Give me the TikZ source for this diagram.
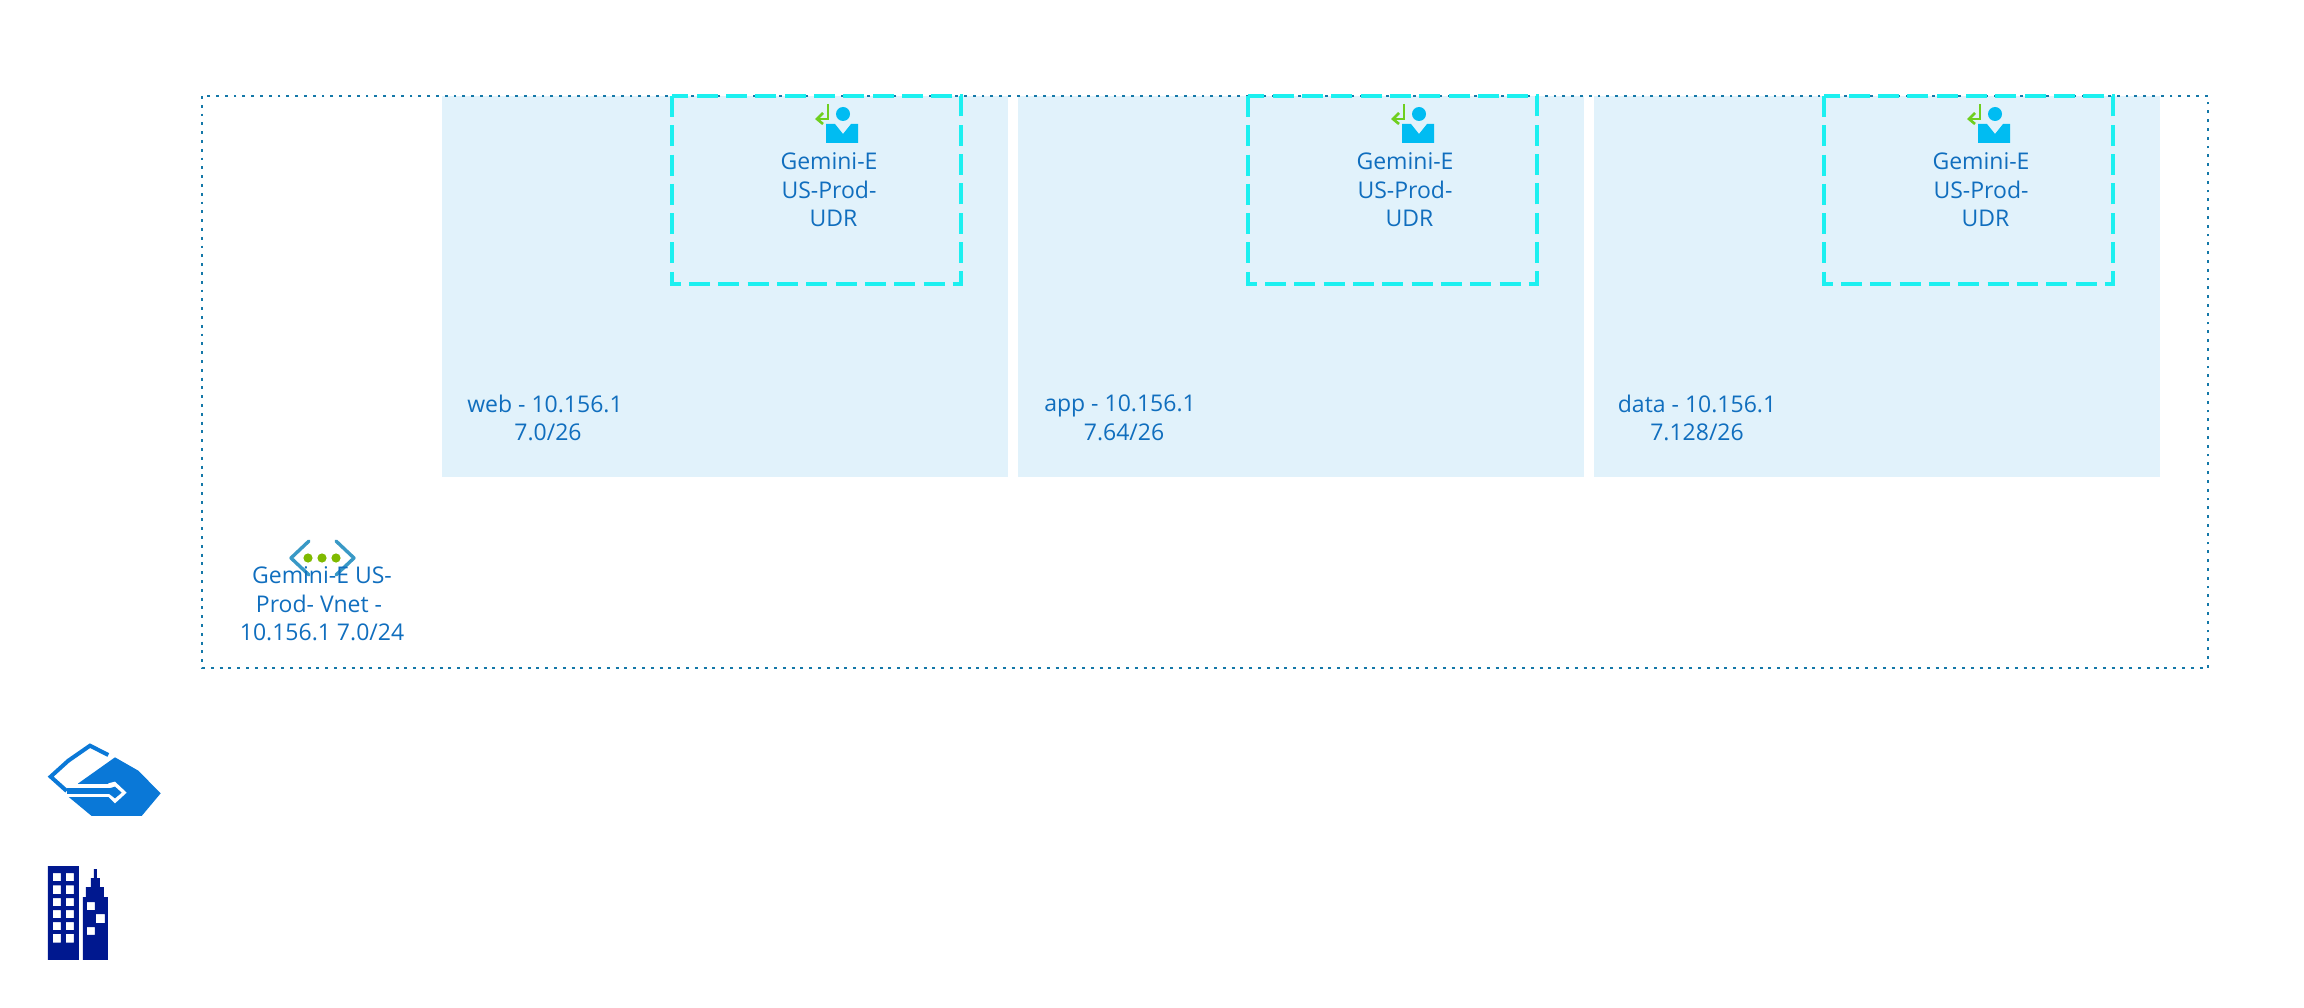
\documentclass[tikz,border=0pt]{standalone}
\usepackage{fontspec}
\setmainfont{Open Sans}
\definecolor{subnetfill}{HTML}{E1F2FB}
\definecolor{vnetline}{HTML}{1478A8}
\definecolor{udrline}{HTML}{1CF0F0}
\definecolor{labeltext}{HTML}{106EBE}
\definecolor{personblue}{HTML}{00BCF2}
\definecolor{arrowgreen}{HTML}{6FCF1F}
\definecolor{chevron}{HTML}{3999C6}
\definecolor{dotgreen}{HTML}{7FBA00}
\definecolor{gatewayblue}{HTML}{0A78D7}
\definecolor{buildingblue}{HTML}{00188F}
\tikzset{
  x=1pt,y=-1pt,
  subnetbox/.style={fill=subnetfill,draw=none},
  vnetbox/.style={draw=vnetline,line width=2.9pt,dash pattern=on 2.9pt off 5.9pt},
  udrbox/.style={draw=udrline,line width=3.6pt,dash pattern=on 21pt off 8.3pt},
  lbl/.style={text=labeltext,align=center,inner sep=0pt,font=\fontsize{23}{28.6}\selectfont},
  personicon/.pic={
    \fill[personblue] (7,-9) circle (7);
    \fill[personblue] (-10,1) -- (-1,1) -- (7,11) -- (15,1) -- (22,1) -- (22,20) -- (-10,20) -- cycle;
    \draw[arrowgreen,line width=2.6pt] (-8,-19) -- (-8,-4) -- (-18,-4);
    \draw[arrowgreen,line width=2.6pt] (-13,-10) -- (-19,-4) -- (-13,1);
  }
}
\begin{document}
\begin{tikzpicture}
\useasboundingbox (0,0) rectangle (2304,1008);
% subnets
\path[subnetbox] (442,96) rectangle (1008,477);
\path[subnetbox] (1018,96) rectangle (1584,477);
\path[subnetbox] (1594,96) rectangle (2160,477);
% vnet
\draw[vnetbox] (202,96) rectangle (2208,668);
% udr boxes
\foreach \dx/\nm in {0/a,576/b,1152/c}{
  \draw[udrbox] (672+\dx,96) rectangle (961+\dx,284);
  \pic at (836+\dx,123) {personicon};
  \node[lbl] (udr\nm) at (829+\dx,190) {Gemini-E\\US-Prod-\\\hspace*{9pt}UDR};
}
% subnet labels
\node[lbl] (web) at (545,418) {web - 10.156.1\\\hspace*{6pt}7.0/26};
\node[lbl] (app) at (1120,418) {app - 10.156.1\\\hspace*{8pt}7.64/26};
\node[lbl] (data) at (1697,418) {data - 10.156.1\\7.128/26};
% vnet icon
\draw[chevron,line width=3.4pt,line join=round,line cap=round] (309,541) -- (291,558) -- (309,575);
\draw[chevron,line width=3.4pt,line join=round,line cap=round] (336,541) -- (354,558) -- (336,575);
\foreach \x in {308,322,336}{\fill[dotgreen] (\x,558) circle (4.6);}
\node[lbl] (vnet) at (322,604) {Gemini-E US-\\\hspace*{-6pt}Prod- Vnet -\\10.156.1 7.0/24};
% gateway icon
\begin{scope}[shift={(30,730)},x=0.3333pt,y=-0.3333pt]
  \fill[gatewayblue] (255,82) -- (325,122) -- (392,190) -- (335,258) -- (185,258) -- (115,200) -- (145,160) -- cycle;
  \draw[white,line width=12.7pt] (100,181) -- (245,181);
  \fill[white] (235,160) -- (255,155) -- (290,188) -- (255,220) -- (235,200) -- cycle;
  \draw[gatewayblue,line width=4pt,line join=miter] (235,75) -- (180,47) -- (115,92) -- (62,140) -- (110,183);
  \draw[gatewayblue,line width=5.5pt] (110,183) -- (245,183);
  \fill[gatewayblue] (238,175) -- (255,170) -- (275,188) -- (255,205) -- (238,192) -- cycle;
\end{scope}
% buildings
\begin{scope}[shift={(30,850)},x=0.3333pt,y=-0.3333pt]
  \fill[buildingblue,even odd rule] (54,48) rectangle (147,330)
    (69,69) rectangle (93,93) (108,69) rectangle (132,93)
    (69,106) rectangle (93,132) (108,106) rectangle (132,132)
    (69,144) rectangle (93,168) (108,144) rectangle (132,168)
    (69,180) rectangle (93,204) (108,180) rectangle (132,204)
    (69,216) rectangle (93,240) (108,216) rectangle (132,240)
    (69,252) rectangle (93,278) (108,252) rectangle (132,278);
  \fill[buildingblue,even odd rule] (159,141) -- (168,141) -- (168,111) -- (183,111) -- (183,84) -- (192,84) -- (192,57) -- (201,57) -- (201,84) -- (210,84) -- (210,111) -- (222,111) -- (222,141) -- (234,141) -- (234,330) -- (159,330) -- cycle
    (171,156) rectangle (195,180) (198,192) rectangle (225,219) (171,231) rectangle (195,255);
\end{scope}
\end{tikzpicture}
\end{document}
